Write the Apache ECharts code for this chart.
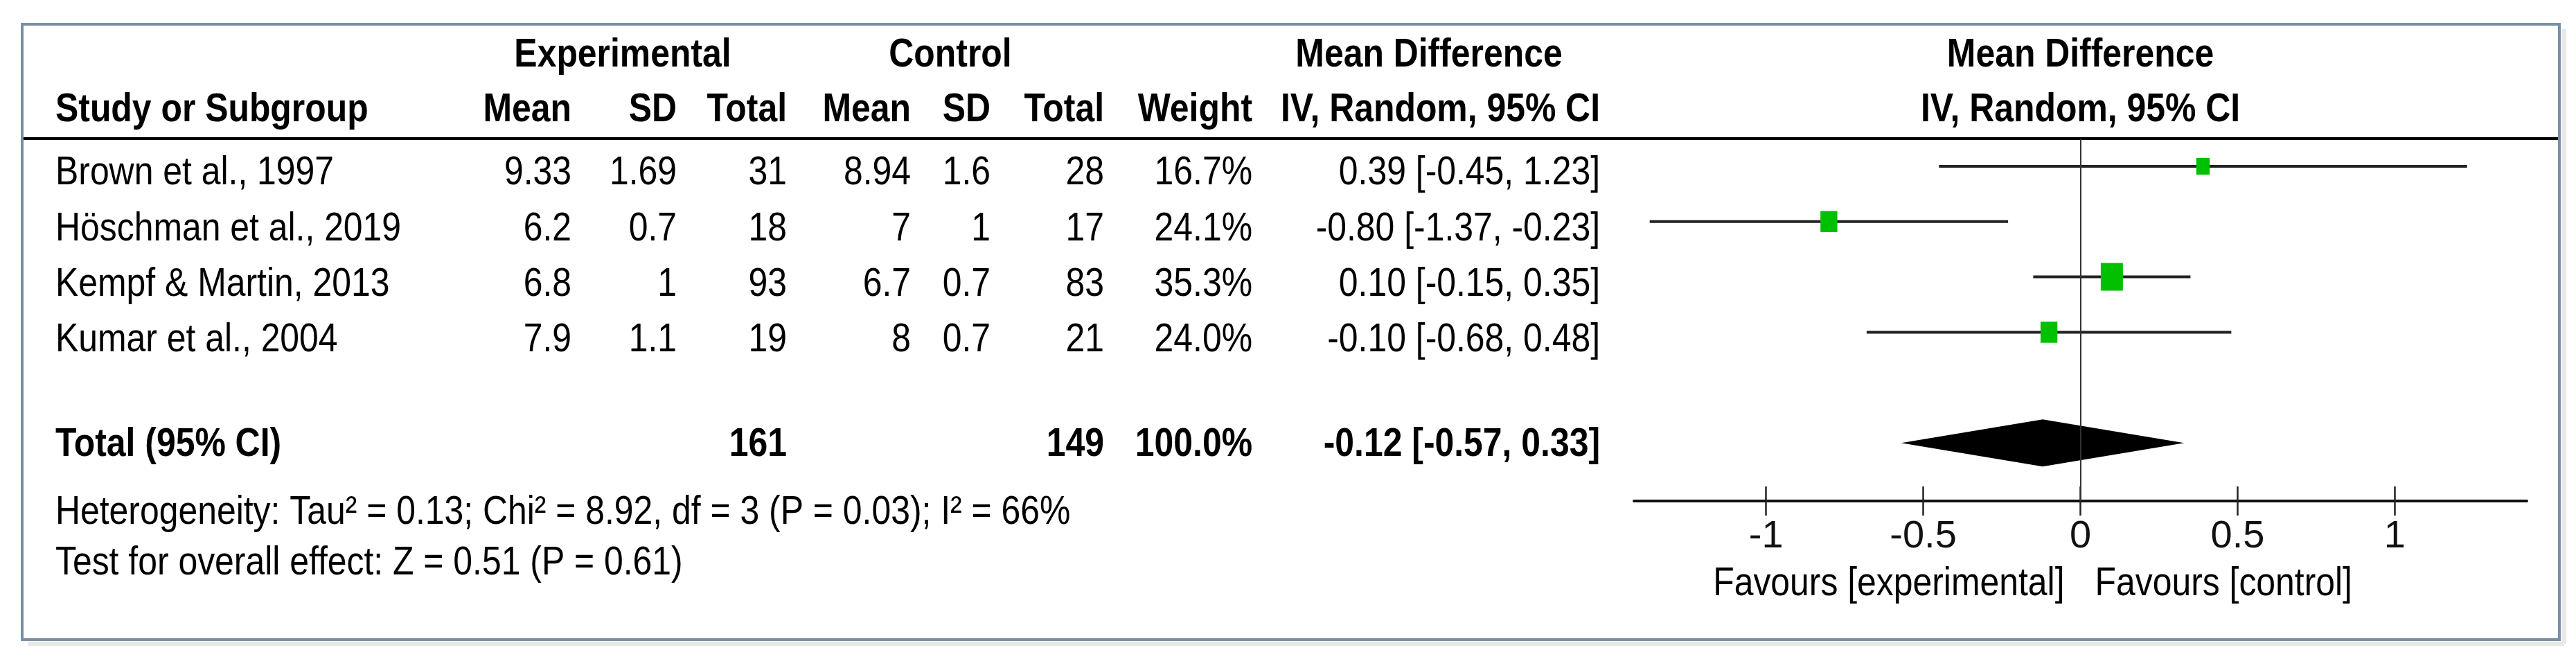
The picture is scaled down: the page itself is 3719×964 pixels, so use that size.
<!DOCTYPE html>
<html>
<head>
<meta charset="utf-8">
<script src="https://cdn.jsdelivr.net/npm/echarts@6/dist/echarts.min.js"></script>
<style>
html,body{margin:0;padding:0;background:#fff;}
#chart{width:3719px;height:964px;}
</style>
</head>
<body>
<div id="chart"></div>
<script>
// ---- data ----
const studies = ["Brown et al., 1997", "Höschman et al., 2019", "Kempf & Martin, 2013", "Kumar et al., 2004"];
const expMean = [9.33, 6.2, 6.8, 7.9];
const expSD = [1.69, 0.7, 1, 1.1];
const expTotal = [31, 18, 93, 19];
const ctrlMean = [8.94, 7, 6.7, 8];
const ctrlSD = [1.6, 1, 0.7, 0.7];
const ctrlTotal = [28, 17, 83, 21];
const weights = [16.7, 24.1, 35.3, 24.0];
const meanDiff = [0.39, -0.80, 0.10, -0.10];
const ciLow = [-0.45, -1.37, -0.15, -0.68];
const ciHigh = [1.23, -0.23, 0.35, 0.48];
const totalLabel = "Total (95% CI)";
const totalExp = 161;
const totalCtrl = 149;
const totalWeight = 100.0;
const pooledMD = -0.12;
const pooledLow = -0.57;
const pooledHigh = 0.33;
const heterogeneityText = "Heterogeneity: Tau\u00B2 = 0.13; Chi\u00B2 = 8.92, df = 3 (P = 0.03); I\u00B2 = 66%";
const overallText = "Test for overall effect: Z = 0.51 (P = 0.61)";
const xTicks = [-1, -0.5, 0, 0.5, 1];
const favourLabels = ["Favours [experimental]", "Favours [control]"];
const groupHeaders = ["Experimental", "Control", "Mean Difference", "Mean Difference"];
const colHeaders = ["Study or Subgroup", "Mean", "SD", "Total", "Mean", "SD", "Total", "Weight", "IV, Random, 95% CI", "IV, Random, 95% CI"];

// ---- layout / style ----
const FONT = '"Liberation Sans", Arial, sans-serif';
const FS = 58;
const SX = 0.86;
const TOTAL_ROW = 5;
const X_MIN = -1.42, X_MAX = 1.42;

const chart = echarts.init(document.getElementById('chart'), null, {renderer: 'canvas'});

const ciData = studies.map((s, i) => [i, ciLow[i], ciHigh[i]]);
const sqData = studies.map((s, i) => [meanDiff[i], i, weights[i]]);

const gridBox = {left: 2359, width: 1289, top: 200, height: 523};

const option = {
  animation: false,
  backgroundColor: '#ffffff',
  grid: [Object.assign({}, gridBox), Object.assign({}, gridBox)],
  xAxis: [{
    type: 'value', min: X_MIN, max: X_MAX, gridIndex: 0,
    axisLine: {show: true, onZero: false, lineStyle: {color: '#111', width: 4}},
    axisTick: {show: true, length: 21, customValues: xTicks, lineStyle: {color: '#222', width: 2.5}},
    axisLabel: {show: true, customValues: xTicks, fontSize: 56, fontFamily: FONT, color: '#111', margin: 24},
    splitLine: {show: false}
  }, {
    type: 'value', min: X_MIN, max: X_MAX, gridIndex: 1, position: 'bottom',
    axisLine: {show: false, onZero: false},
    axisTick: {show: true, inside: true, length: 21, customValues: xTicks, lineStyle: {color: '#222', width: 2.5}},
    axisLabel: {show: false},
    splitLine: {show: false}
  }],
  yAxis: [
    {type: 'value', min: -0.5, max: 6.05, inverse: true, show: false, gridIndex: 0, splitLine: {show: false}},
    {type: 'value', min: -0.5, max: 6.05, inverse: true, show: false, gridIndex: 1, splitLine: {show: false}}
  ],
  series: [{
    type: 'custom',
    name: 'ci',
    data: ciData,
    encode: {x: [1, 2], y: 0},
    renderItem: function (params, api) {
      const a = api.coord([api.value(1), api.value(0)]);
      const b = api.coord([api.value(2), api.value(0)]);
      return {type: 'line', shape: {x1: a[0], y1: a[1], x2: b[0], y2: b[1]},
        style: {stroke: '#222', lineWidth: 4}};
    },
    markLine: {
      silent: true, symbol: ['none', 'none'], label: {show: false},
      lineStyle: {color: '#333', width: 2, type: 'solid'},
      data: [{xAxis: 0}]
    },
    z: 2
  }, {
    type: 'scatter',
    name: 'md',
    data: sqData,
    symbol: 'rect',
    symbolSize: function (val) {
      const h = 10 + 0.85 * val[2];
      return [0.8 * h, h];
    },
    itemStyle: {color: '#00c000', opacity: 1},
    z: 3
  }, {
    type: 'custom',
    name: 'pooled',
    data: [[pooledMD, pooledLow, pooledHigh, TOTAL_ROW]],
    encode: {x: [0, 1, 2], y: 3},
    renderItem: function (params, api) {
      const y = api.value(3);
      const l = api.coord([api.value(1), y]);
      const c = api.coord([api.value(0), y]);
      const r = api.coord([api.value(2), y]);
      const hh = 34;
      return {type: 'polygon', shape: {points: [[l[0], l[1]], [c[0], c[1] - hh], [r[0], r[1]], [c[0], c[1] + hh]]},
        style: {fill: '#000'}};
    },
    z: 3
  }]
};
chart.setOption(option);

function txt(s, x, y, align, bold, size) {
  return {
    type: 'text', x: x, y: y, scaleX: SX, silent: true, z: 10,
    style: {
      text: String(s), x: 0, y: 0, fill: '#000',
      font: (bold ? 'bold ' : '') + (size || FS) + 'px ' + FONT,
      align: align, verticalAlign: 'middle', textAlign: align, textVerticalAlign: 'middle'
    }
  };
}

const colRight = [825, 977, 1136, 1315, 1430, 1594, 1808, 2310];
const studyLeft = 80;
const rowY = [250, 331, 411, 491];
const totalY = 642;
const head1Y = 80;
const head2Y = 159;

const zeroX = chart.convertToPixel({xAxisIndex: 0}, 0);

const g = [];
// frame shadow + border
g.push({type: 'line', silent: true, z: 0, shape: {x1: 3702, y1: 42, x2: 3702, y2: 929}, style: {stroke: '#e8e8e8', lineWidth: 6}});
g.push({type: 'line', silent: true, z: 0, shape: {x1: 40, y1: 929, x2: 3702, y2: 929}, style: {stroke: '#e8e8e8', lineWidth: 6}});
g.push({type: 'rect', silent: true, z: 1, shape: {x: 32, y: 35, width: 3663, height: 888}, style: {fill: 'none', stroke: '#7890a3', lineWidth: 4}});
// header rule
g.push({type: 'line', silent: true, z: 1, shape: {x1: 34, y1: 200, x2: 3693, y2: 200}, style: {stroke: '#000', lineWidth: 4}});

// header row 1
g.push(txt(groupHeaders[0], 899, head1Y, 'center', true));
g.push(txt(groupHeaders[1], 1372, head1Y, 'center', true));
g.push(txt(groupHeaders[2], 2063, head1Y, 'center', true));
g.push(txt(groupHeaders[3], zeroX, head1Y, 'center', true));
// header row 2
g.push(txt(colHeaders[0], studyLeft, head2Y, 'left', true));
for (let c = 1; c <= 8; c++) g.push(txt(colHeaders[c], colRight[c - 1], head2Y, 'right', true));
g.push(txt(colHeaders[9], zeroX, head2Y, 'center', true));

// study rows
studies.forEach((s, i) => {
  const y = rowY[i];
  g.push(txt(s, studyLeft, y, 'left', false));
  g.push(txt(expMean[i], colRight[0], y, 'right'));
  g.push(txt(expSD[i], colRight[1], y, 'right'));
  g.push(txt(expTotal[i], colRight[2], y, 'right'));
  g.push(txt(ctrlMean[i], colRight[3], y, 'right'));
  g.push(txt(ctrlSD[i], colRight[4], y, 'right'));
  g.push(txt(ctrlTotal[i], colRight[5], y, 'right'));
  g.push(txt(weights[i].toFixed(1) + '%', colRight[6], y, 'right'));
  g.push(txt(meanDiff[i].toFixed(2) + ' [' + ciLow[i].toFixed(2) + ', ' + ciHigh[i].toFixed(2) + ']', colRight[7], y, 'right'));
});

// total row
g.push(txt(totalLabel, studyLeft, totalY, 'left', true));
g.push(txt(totalExp, colRight[2], totalY, 'right', true));
g.push(txt(totalCtrl, colRight[5], totalY, 'right', true));
g.push(txt(totalWeight.toFixed(1) + '%', colRight[6], totalY, 'right', true));
g.push(txt(pooledMD.toFixed(2) + ' [' + pooledLow.toFixed(2) + ', ' + pooledHigh.toFixed(2) + ']', colRight[7], totalY, 'right', true));

// footnotes
g.push(txt(heterogeneityText, studyLeft, 740, 'left', false));
g.push(txt(overallText, studyLeft, 813, 'left', false));

// favours labels
g.push(txt(favourLabels[0], zeroX - 23, 843, 'right', false));
g.push(txt(favourLabels[1], zeroX + 21, 843, 'left', false));

chart.setOption({graphic: {elements: g}});
</script>
</body>
</html>
